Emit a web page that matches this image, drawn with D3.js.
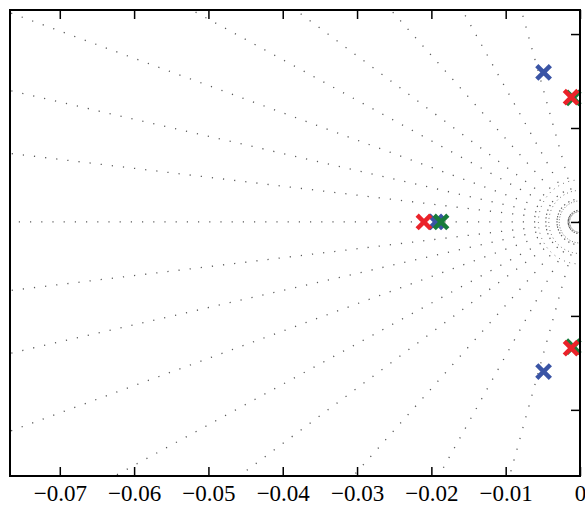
<!DOCTYPE html>
<html>
<head>
<meta charset="utf-8">
<script src="https://cdn.jsdelivr.net/npm/d3@7"></script>
<style>
    body { margin: 0; background: #fff; }
    svg { display: block; }
</style>
</head>
<body>
<svg width="585" height="505"></svg>
<script>
// axis limits and ticks
var xDomain = [-0.0767, 0];
var yDomain = [-0.0338, 0.0282];
var xTicks = [-0.07, -0.06, -0.05, -0.04, -0.03, -0.02, -0.01, 0];
var yTicks = [-0.025, -0.0125, 0, 0.0125, 0.025];

// s-plane grid
var dampingRatios = [1, 0.993, 0.975, 0.94, 0.88, 0.805, 0.67, 0.49, 0.27];
var naturalFreqs = [0.0014, 0.0028, 0.0042, 0.0056];

// poles [re, im]
var bluePoles = [[-0.0194, 0], [-0.0049, 0.0199], [-0.0049, -0.0199]];
var greenPoles = [[-0.0187, 0], [-0.0009, 0.0165], [-0.0009, -0.0166]];
var redPoles = [[-0.0210, 0], [-0.0012, 0.0166], [-0.0012, -0.0168]];

var plotLeft = 10, plotRight = 580, plotTop = 10, plotBottom = 476;

var svg = d3.select("svg");
var x = d3.scaleLinear().domain(xDomain).range([plotLeft, plotRight]);
var y = d3.scaleLinear().domain(yDomain).range([plotBottom, plotTop]);

svg.append("defs").append("clipPath").attr("id", "plot")
    .append("rect")
    .attr("x", plotLeft).attr("y", plotTop)
    .attr("width", plotRight - plotLeft).attr("height", plotBottom - plotTop);

var grid = svg.append("g").attr("clip-path", "url(#plot)");

// constant damping lines
var far = 0.2;
dampingRatios.forEach(function(z) {
    var s = Math.sqrt(1 - z * z);
    [1, -1].forEach(function(sign) {
        if (s === 0 && sign === -1) return;
        grid.append("line")
            .attr("x1", x(0)).attr("y1", y(0))
            .attr("x2", x(-far * z)).attr("y2", y(sign * far * s))
            .attr("stroke", "#5a5a5a")
            .attr("stroke-width", 1.3)
            .attr("stroke-dasharray", "1.2 10");
    });
});

// constant natural frequency arcs
var arcLine = d3.line()
    .x(function(d) { return x(d[0]); })
    .y(function(d) { return y(d[1]); });
naturalFreqs.forEach(function(w) {
    var pts = d3.range(0, 41).map(function(i) {
        var a = Math.PI / 2 + Math.PI * i / 40;
        return [w * Math.cos(a), w * Math.sin(a)];
    });
    var p = grid.append("path")
        .attr("d", arcLine(pts))
        .attr("fill", "none")
        .attr("stroke", "#777")
        .attr("stroke-width", 1);
    var len = p.node().getTotalLength();
    var gap = Math.max(len / 24 - 1, 0.5);
    p.attr("stroke-dasharray", "1 " + gap);
});

// poles
var xMark = "M-6.8,-6.8L6.8,6.8M-6.8,6.8L6.8,-6.8";
function drawPoles(poles, color) {
    svg.append("g").selectAll("path").data(poles).enter()
        .append("path")
        .attr("d", xMark)
        .attr("transform", function(d) { return "translate(" + x(d[0]) + "," + y(d[1]) + ")"; })
        .attr("fill", "none")
        .attr("stroke", color)
        .attr("stroke-width", 4.5);
}
drawPoles(bluePoles, "#3a54a5");
drawPoles(greenPoles, "#187c3b");
drawPoles(redPoles, "#ea2229");

// axes
var fmt = function(d) { return d === 0 ? "0" : d3.format(".2f")(d); };

svg.append("g")
    .attr("transform", "translate(0," + plotBottom + ")")
    .call(d3.axisBottom(x).tickValues(xTicks).tickFormat(fmt)
        .tickSizeInner(-9).tickSizeOuter(0).tickPadding(9))
    .call(function(g) { g.select(".domain").remove(); })
    .selectAll("text")
    .attr("font-family", "'Liberation Serif', 'Times New Roman', serif")
    .attr("font-size", "23px")
    .attr("fill", "#000");

svg.append("g")
    .attr("transform", "translate(0," + plotTop + ")")
    .call(d3.axisBottom(x).tickValues(xTicks).tickFormat("")
        .tickSizeInner(9).tickSizeOuter(0))
    .call(function(g) { g.select(".domain").remove(); });

svg.append("g")
    .attr("transform", "translate(" + plotRight + ",0)")
    .call(d3.axisLeft(y).tickValues(yTicks).tickFormat("")
        .tickSizeInner(9).tickSizeOuter(0))
    .call(function(g) { g.select(".domain").remove(); });

svg.selectAll(".tick line").attr("stroke", "#000").attr("stroke-width", 1.5);

svg.append("rect")
    .attr("x", plotLeft).attr("y", plotTop)
    .attr("width", plotRight - plotLeft).attr("height", plotBottom - plotTop)
    .attr("fill", "none")
    .attr("stroke", "#000")
    .attr("stroke-width", 2);
</script>
</body>
</html>
